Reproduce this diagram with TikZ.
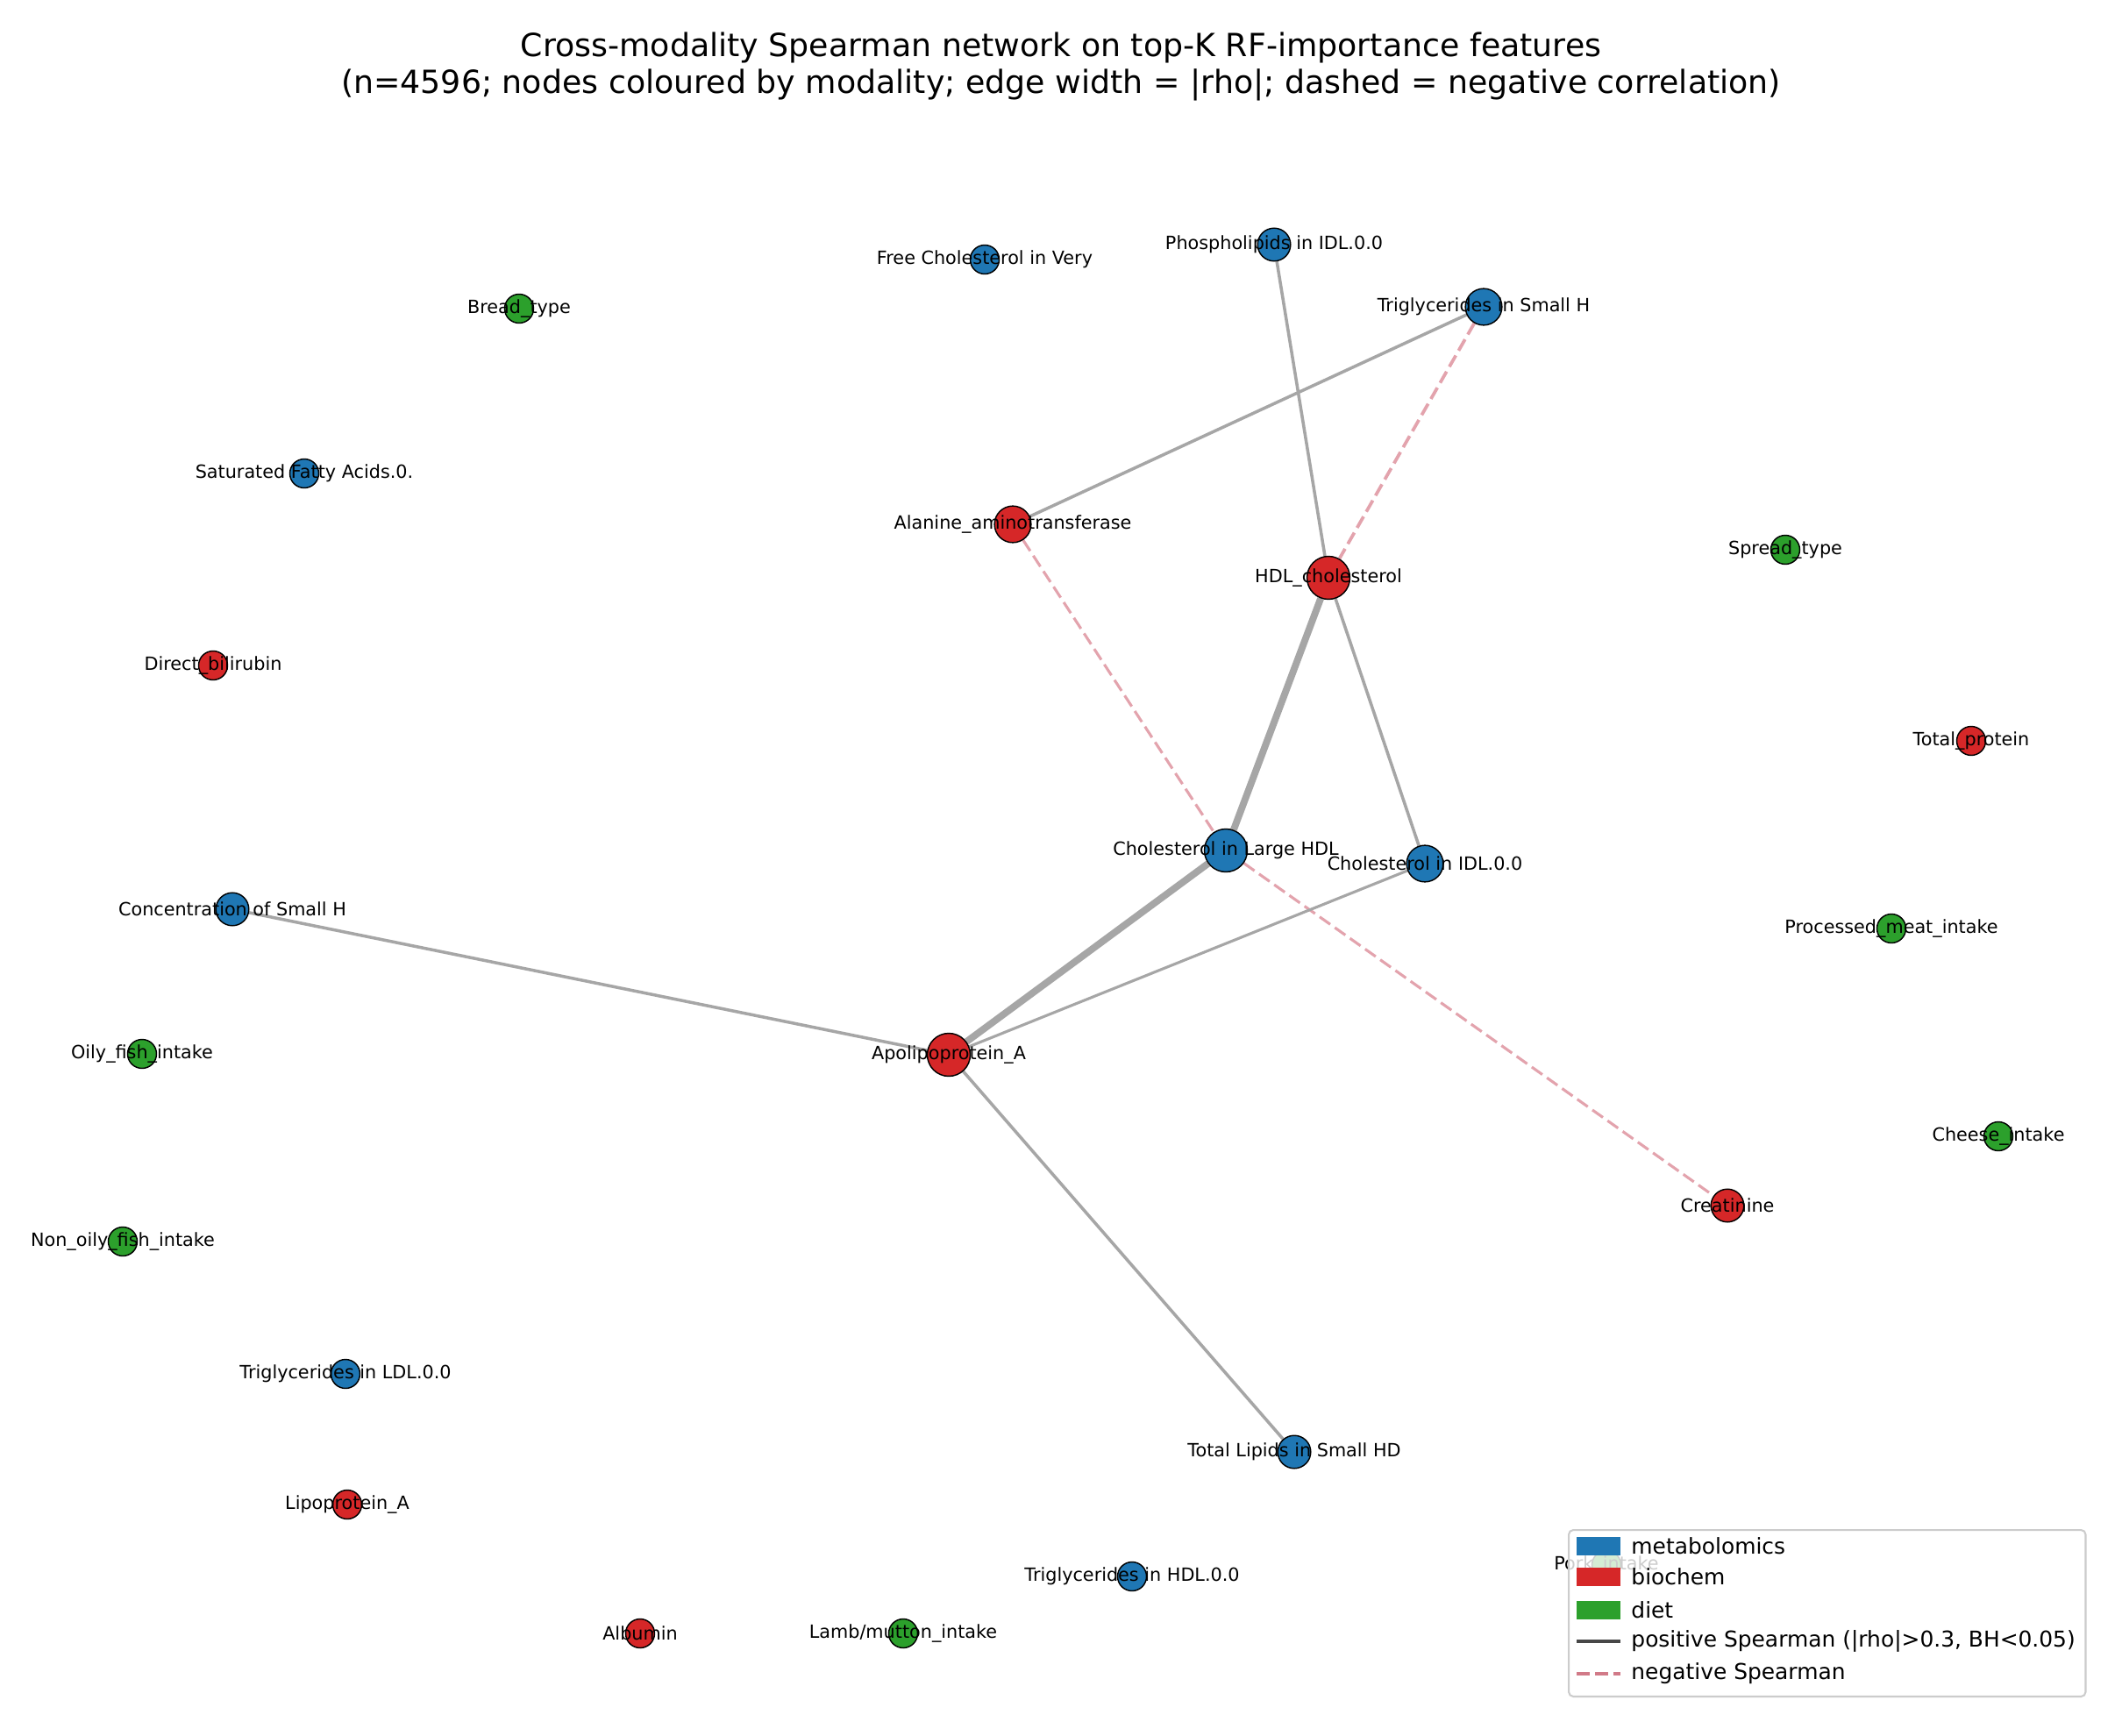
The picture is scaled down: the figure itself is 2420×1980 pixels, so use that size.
\documentclass[tikz,border=0pt]{standalone}
\usepackage{fontspec}
\setmainfont{DejaVu Sans}
\usetikzlibrary{backgrounds}
\definecolor{cmet}{HTML}{1F77B4}
\definecolor{cbio}{HTML}{D62728}
\definecolor{cdiet}{HTML}{2CA02C}
\definecolor{posc}{HTML}{A6A6A6}
\definecolor{negc}{HTML}{E3A3AD}
\definecolor{negleg}{HTML}{D17A88}
\definecolor{posleg}{HTML}{474747}
\tikzset{
  nd/.style={circle, draw=black, line width=0.7pt, inner sep=0pt},
  dz/.style={nd, minimum size=15.9pt},
  da/.style={nd, minimum size=18.1pt},
  db/.style={nd, minimum size=20.1pt},
  dd/.style={nd, minimum size=23.6pt},
  met/.style={fill=cmet},
  bio/.style={fill=cbio},
  diet/.style={fill=cdiet},
  lbl/.style={font=\fontsize{10}{12}\selectfont, inner sep=0pt},
  posedge/.style={draw=posc, line width=1.7pt},
  thickedge/.style={draw=posc, line width=3.8pt},
  negedge/.style={draw=negc, line width=1.8pt, dash pattern=on 7.1pt off 3.1pt},
  legtext/.style={font=\fontsize{12}{14}\selectfont, anchor=west, inner sep=0pt},
  titletext/.style={font=\fontsize{17.5}{20}\selectfont, anchor=base, inner sep=0pt}
}
\begin{document}
\begin{tikzpicture}[x=0.4818pt, y=-0.4818pt]
\useasboundingbox (0,0) rectangle (2420,1980);

\node[titletext] (t1) at (1210,65) {Cross-modality Spearman network on top-K RF-importance features};
\node[titletext] (t2) at (1210,107) {(n=4596; nodes coloured by modality; edge width = |rho|; dashed = negative correlation)};

% nodes
\node[dz,met,label={[lbl]center:Free Cholesterol in Very}] (fcv) at (1123,296) {};
\node[da,met,label={[lbl]center:Phospholipids in IDL.0.0}] (phos) at (1453,279) {};
\node[db,met,label={[lbl]center:Triglycerides in Small H}] (tsh) at (1692,350) {};
\node[dz,diet,label={[lbl]center:Bread\_type}] (bread) at (592,352) {};
\node[dz,met,label={[lbl]center:Saturated Fatty Acids.0.}] (sfa) at (347,540) {};
\node[db,bio,label={[lbl]center:Alanine\_aminotransferase}] (alt) at (1155,598) {};
\node[dd,bio,label={[lbl]center:HDL\_cholesterol}] (hdl) at (1515,659) {};
\node[dz,diet,label={[lbl]center:Spread\_type}] (spread) at (2036,627) {};
\node[dz,bio,label={[lbl]center:Direct\_bilirubin}] (dbil) at (243,759) {};
\node[dz,bio,label={[lbl]center:Total\_protein}] (tprot) at (2248,845) {};
\node[dd,met,label={[lbl]center:Cholesterol in Large HDL}] (clh) at (1398,970) {};
\node[db,met,label={[lbl]center:Cholesterol in IDL.0.0}] (cidl) at (1625,985) {};
\node[da,met,label={[lbl]center:Concentration of Small H}] (conc) at (265,1037) {};
\node[dz,diet,label={[lbl]center:Processed\_meat\_intake}] (proc) at (2157,1059) {};
\node[dd,bio,label={[lbl]center:Apolipoprotein\_A}] (apoa) at (1082,1203) {};
\node[dz,diet,label={[lbl]center:Oily\_fish\_intake}] (oily) at (162,1202) {};
\node[dz,diet,label={[lbl]center:Cheese\_intake}] (cheese) at (2279,1296) {};
\node[da,bio,label={[lbl]center:Creatinine}] (creat) at (1970,1375) {};
\node[dz,diet,label={[lbl]center:Non\_oily\_fish\_intake}] (nonoily) at (140,1416) {};
\node[dz,met,label={[lbl]center:Triglycerides in LDL.0.0}] (tldl) at (394,1567) {};
\node[da,met,label={[lbl]center:Total Lipids in Small HD}] (tlip) at (1476,1656) {};
\node[dz,bio,label={[lbl]center:Lipoprotein\_A}] (lpa) at (396,1716) {};
\node[dz,met,label={[lbl]center:Triglycerides in HDL.0.0}] (thdl) at (1291,1798) {};
\node[dz,bio,label={[lbl]center:Albumin}] (alb) at (730,1863) {};
\node[dz,diet,label={[lbl]center:Lamb/mutton\_intake}] (lamb) at (1030,1863) {};
\node[dz,diet,label={[lbl]center:Pork\_intake}] (pork) at (1832,1785) {};

% edges
\begin{scope}[on background layer]
\fill[white] (0,0) rectangle (2420,1980);
\draw[posedge] (phos) -- (hdl);
\draw[posedge] (tsh) -- (alt);
\draw[negedge] (tsh) -- (hdl);
\draw[thickedge] (hdl) -- (clh);
\draw[posedge] (hdl) -- (cidl);
\draw[negedge, line width=1.5pt] (alt) -- (clh);
\draw[negedge, line width=1.5pt] (clh) -- (creat);
\draw[thickedge] (clh) -- (apoa);
\draw[posedge, line width=1.5pt] (apoa) -- (cidl);
\draw[posedge] (apoa) -- (conc);
\draw[posedge] (apoa) -- (tlip);
\end{scope}

% legend
\node[draw=black!20, line width=1pt, fill=white, fill opacity=0.8, rounded corners=2.5pt,
      anchor=north west, minimum width=284pt, minimum height=91.5pt, inner sep=0pt] (leg) at (1788,1744) {};
\fill[cmet] (1798,1753) rectangle (1848,1774);
\node[legtext] (l1) at (1860,1763) {metabolomics};
\fill[cbio] (1798,1788) rectangle (1848,1809);
\node[legtext] (l2) at (1860,1798) {biochem};
\fill[cdiet] (1798,1826) rectangle (1848,1847);
\node[legtext] (l3) at (1860,1836) {diet};
\coordinate (p1) at (1798,1872);
\coordinate (p2) at (1848,1872);
\draw[posleg, line width=1.9pt] (p1) -- (p2);
\node[legtext] (l4) at (1860,1872) {positive Spearman (|rho|>0.3, BH<0.05)};
\coordinate (n1) at (1798,1909);
\coordinate (n2) at (1848,1909);
\draw[negleg, line width=1.9pt, dash pattern=on 7.1pt off 3.1pt] (n1) -- (n2);
\node[legtext] (l5) at (1860,1909) {negative Spearman};
\end{tikzpicture}
\end{document}
